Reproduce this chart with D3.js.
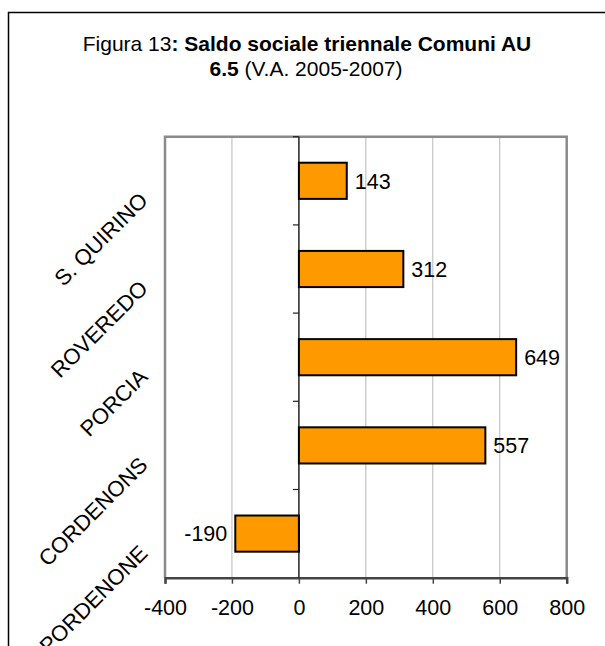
<!DOCTYPE html>
<html>
<head>
<meta charset="utf-8">
<title>Saldo sociale triennale</title>
<script src="https://cdn.jsdelivr.net/npm/d3@7"></script>
<style>
  body { margin: 0; background: #fff; }
  text { font-family: "Liberation Sans", Arial, sans-serif; fill: #000; }
</style>
</head>
<body>
<div id="chart"></div>
<script>
// dati (dall'alto verso il basso)
var comuni = ["S. QUIRINO", "ROVEREDO", "PORCIA", "CORDENONS", "PORDENONE"];
var saldo = [143, 312, 649, 557, -190];
var xTicks = [-400, -200, 0, 200, 400, 600, 800];

var width = 605, height = 646;
var plotL = 165, plotR = 566.7, plotT = 136.7, plotB = 577.7;

var svg = d3.select("#chart").append("svg")
    .attr("width", width)
    .attr("height", height);

// cornice esterna
svg.append("rect")
    .attr("x", 8.5).attr("y", 12.5)
    .attr("width", 700).attr("height", 700)
    .attr("fill", "none")
    .attr("stroke", "#000")
    .attr("stroke-width", 1.5);

// titolo
var t1 = svg.append("text")
    .attr("text-anchor", "middle")
    .attr("x", 307).attr("y", 51)
    .style("font-size", "21px");
t1.append("tspan").text("Figura 13");
t1.append("tspan").style("font-weight", "bold").text(": Saldo sociale triennale Comuni AU");
var t2 = svg.append("text")
    .attr("text-anchor", "middle")
    .attr("x", 306).attr("y", 76)
    .style("font-size", "21px");
t2.append("tspan").style("font-weight", "bold").text("6.5");
t2.append("tspan").text(" (V.A. 2005-2007)");

var x = d3.scaleLinear().domain([-400, 800]).range([plotL, plotR]);
var y = d3.scaleBand().domain(comuni).range([plotT, plotB])
    .paddingInner(0.59).paddingOuter(0.295);

// griglia
svg.selectAll(".grid")
    .data(xTicks.filter(function(d) { return d !== -400 && d !== 0 && d !== 800; }))
    .enter().append("line")
    .attr("x1", function(d) { return x(d); })
    .attr("x2", function(d) { return x(d); })
    .attr("y1", plotT).attr("y2", plotB)
    .attr("stroke", "#b8b8b8")
    .attr("stroke-width", 1);

// bordo area grafico
svg.append("path")
    .attr("d", "M" + x(-400) + "," + plotB + "V" + plotT + "H" + x(800) + "V" + plotB)
    .attr("fill", "none")
    .attr("stroke", "#8a8a8a")
    .attr("stroke-width", 2.5);

// asse x
var xAxis = svg.append("g")
    .attr("transform", "translate(0," + plotB + ")")
    .call(d3.axisBottom(x).tickValues(xTicks).tickSize(6).tickPadding(16)
        .tickFormat(function(d) { return String(d); }));
xAxis.select(".domain").attr("stroke", "#444").attr("stroke-width", 2.5);
xAxis.selectAll(".tick line").attr("stroke", "#444").attr("stroke-width", 1.5);
xAxis.selectAll(".tick text")
    .style("font-size", "21.5px")
    .style("font-family", "'Liberation Sans', Arial, sans-serif")
    .attr("fill", "#000");

// asse categorie sullo zero
svg.append("line")
    .attr("x1", x(0)).attr("x2", x(0))
    .attr("y1", plotT).attr("y2", plotB)
    .attr("stroke", "#222")
    .attr("stroke-width", 1.5);
var bounds = comuni.map(function(c) { return y(c) + y.bandwidth() / 2 - y.step() / 2; });
svg.selectAll(".ytick")
    .data(bounds)
    .enter().append("line")
    .attr("x1", x(0) - 6).attr("x2", x(0))
    .attr("y1", function(d) { return d; })
    .attr("y2", function(d) { return d; })
    .attr("stroke", "#222")
    .attr("stroke-width", 1.2);

// barre
svg.selectAll(".bar")
    .data(saldo)
    .enter().append("rect")
    .attr("x", function(d) { return x(Math.min(0, d)); })
    .attr("y", function(d, i) { return y(comuni[i]); })
    .attr("width", function(d) { return Math.abs(x(d) - x(0)); })
    .attr("height", y.bandwidth())
    .attr("fill", "#ff9900")
    .attr("stroke", "#000")
    .attr("stroke-width", 2);

// etichette valori
svg.selectAll(".val")
    .data(saldo)
    .enter().append("text")
    .attr("x", function(d) { return d >= 0 ? x(d) + 8 : x(d) - 8; })
    .attr("y", function(d, i) { return y(comuni[i]) + y.bandwidth() / 2; })
    .attr("dy", "0.36em")
    .attr("text-anchor", function(d) { return d >= 0 ? "start" : "end"; })
    .style("font-size", "21.5px")
    .text(function(d) { return d; });

// etichette comuni, ruotate
svg.selectAll(".cat")
    .data(comuni)
    .enter().append("text")
    .attr("transform", function(c) {
        return "translate(149," + (y(c) + y.bandwidth() / 2 + 21) + ") rotate(-45)";
    })
    .attr("text-anchor", "end")
    .style("font-size", "22px")
    .text(function(c) { return c; });
</script>
</body>
</html>
